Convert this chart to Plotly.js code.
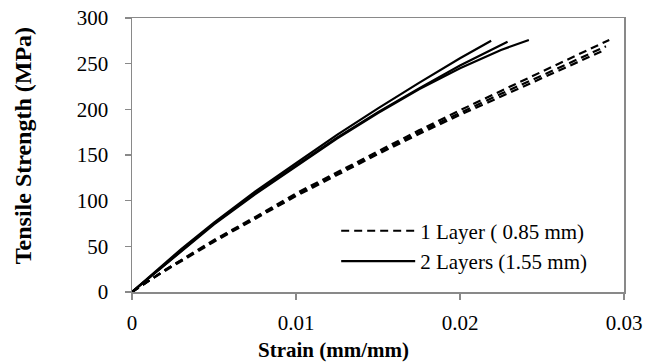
<!DOCTYPE html>
<html>
<head>
<meta charset="utf-8">
<script src="https://cdn.plot.ly/plotly-3.0.1.min.js"></script>
<style>html,body{margin:0;padding:0;background:#fff;}#chart{width:648px;height:362px;}</style>
</head>
<body>
<div id="chart"></div>
<script>
// 1 Layer (0.85 mm) specimens
const d1x = [0, 0.001, 0.002, 0.005, 0.0075, 0.01, 0.0125, 0.015, 0.0175, 0.02, 0.0225, 0.025, 0.0275, 0.0291];
const d1y = [0, 12, 24, 57, 82, 108, 131, 154, 177, 199, 220, 241, 262, 276];
const d2x = [0, 0.001, 0.002, 0.005, 0.0075, 0.01, 0.0125, 0.015, 0.0175, 0.02, 0.0225, 0.025, 0.0275, 0.0287];
const d2y = [0, 12, 23, 55, 80, 105, 128, 151, 173, 194, 214, 234, 254, 264];
const d3x = [0, 0.001, 0.002, 0.005, 0.0075, 0.01, 0.0125, 0.015, 0.0175, 0.02, 0.0225, 0.025, 0.0275, 0.0289];
const d3y = [0, 12, 24, 56, 81, 106, 130, 152, 175, 196, 217, 237, 257, 269];
// 2 Layers (1.55 mm) specimens
const s1x = [0, 0.001, 0.003, 0.005, 0.0075, 0.01, 0.0125, 0.015, 0.0175, 0.02, 0.0219];
const s1y = [0, 16, 47, 76, 110, 141, 172, 201, 229, 256, 275];
const s2x = [0, 0.001, 0.003, 0.005, 0.0075, 0.01, 0.0125, 0.015, 0.0175, 0.02, 0.0229];
const s2y = [0, 15, 46, 75, 108, 139, 169, 197, 223, 248, 274];
const s3x = [0, 0.001, 0.003, 0.005, 0.0075, 0.01, 0.0125, 0.015, 0.0175, 0.02, 0.0225, 0.0242];
const s3y = [0, 15, 45, 74, 107, 138, 168, 196, 222, 245, 265, 276];

const xTicks = [0, 0.01, 0.02, 0.03];
const xTickText = ['0', '0.01', '0.02', '0.03'];
const yTicks = [0, 50, 100, 150, 200, 250, 300];
const legendNames = ['1 Layer ( 0.85 mm)', '2 Layers (1.55 mm)'];
const xTitle = 'Strain (mm/mm)';
const yTitle = 'Tensile Strength (MPa)';

function tr(x, y, dash, grp, show, name) {
  return {x: x, y: y, type: 'scatter', mode: 'lines', name: name,
    legendgroup: grp, showlegend: show,
    line: {color: '#000', width: 2.2, dash: dash}};
}
const data = [
  tr(d1x, d1y, '8px,5px', 'g1', true, legendNames[0]),
  tr(d2x, d2y, '8px,5px', 'g1', false, legendNames[0]),
  tr(d3x, d3y, '8px,5px', 'g1', false, legendNames[0]),
  tr(s1x, s1y, 'solid', 'g2', true, legendNames[1]),
  tr(s2x, s2y, 'solid', 'g2', false, legendNames[1]),
  tr(s3x, s3y, 'solid', 'g2', false, legendNames[1])
];
const fam = 'Liberation Serif, Times New Roman, serif';
const layout = {
  width: 648, height: 362,
  margin: {l: 132, r: 24, t: 18, b: 70},
  paper_bgcolor: '#fff', plot_bgcolor: '#fff',
  font: {family: fam, color: '#000', size: 20},
  showlegend: true,
  legend: {x: 0.415, y: 0.297, xanchor: 'left', yanchor: 'top', bgcolor: 'rgba(0,0,0,0)',
    font: {family: fam, size: 21, color: '#000'}, itemwidth: 74, tracegroupgap: 0},
  xaxis: {range: [0, 0.03], tickvals: xTicks, ticktext: xTickText, showgrid: false, zeroline: false,
    showline: true, linecolor: '#898989', linewidth: 1.5, mirror: true,
    ticks: 'outside', ticklen: 6, tickcolor: '#898989', tickwidth: 1.5, ticklabelstandoff: 5,
    tickfont: {family: fam, size: 21, color: '#000'}},
  yaxis: {range: [0, 300], tickvals: yTicks, showgrid: false, zeroline: false,
    showline: true, linecolor: '#898989', linewidth: 1.5, mirror: true,
    ticks: 'outside', ticklen: 6, tickcolor: '#898989', tickwidth: 1.5, ticklabelstandoff: 12,
    tickfont: {family: fam, size: 21, color: '#000'}},
  annotations: [
    {text: '<b>' + xTitle + '</b>', xref: 'paper', yref: 'paper', x: 0.409, y: -0.212,
     xanchor: 'center', yanchor: 'middle', showarrow: false, font: {family: fam, size: 21, color: '#000'}},
    {text: '<b>' + yTitle + '</b>', xref: 'paper', yref: 'paper', x: -0.2215, y: 0.532, textangle: -90,
     xanchor: 'center', yanchor: 'middle', showarrow: false, font: {family: fam, size: 24, color: '#000'}}
  ]
};
Plotly.newPlot('chart', data, layout, {staticPlot: true, displayModeBar: false});
</script>
</body>
</html>
